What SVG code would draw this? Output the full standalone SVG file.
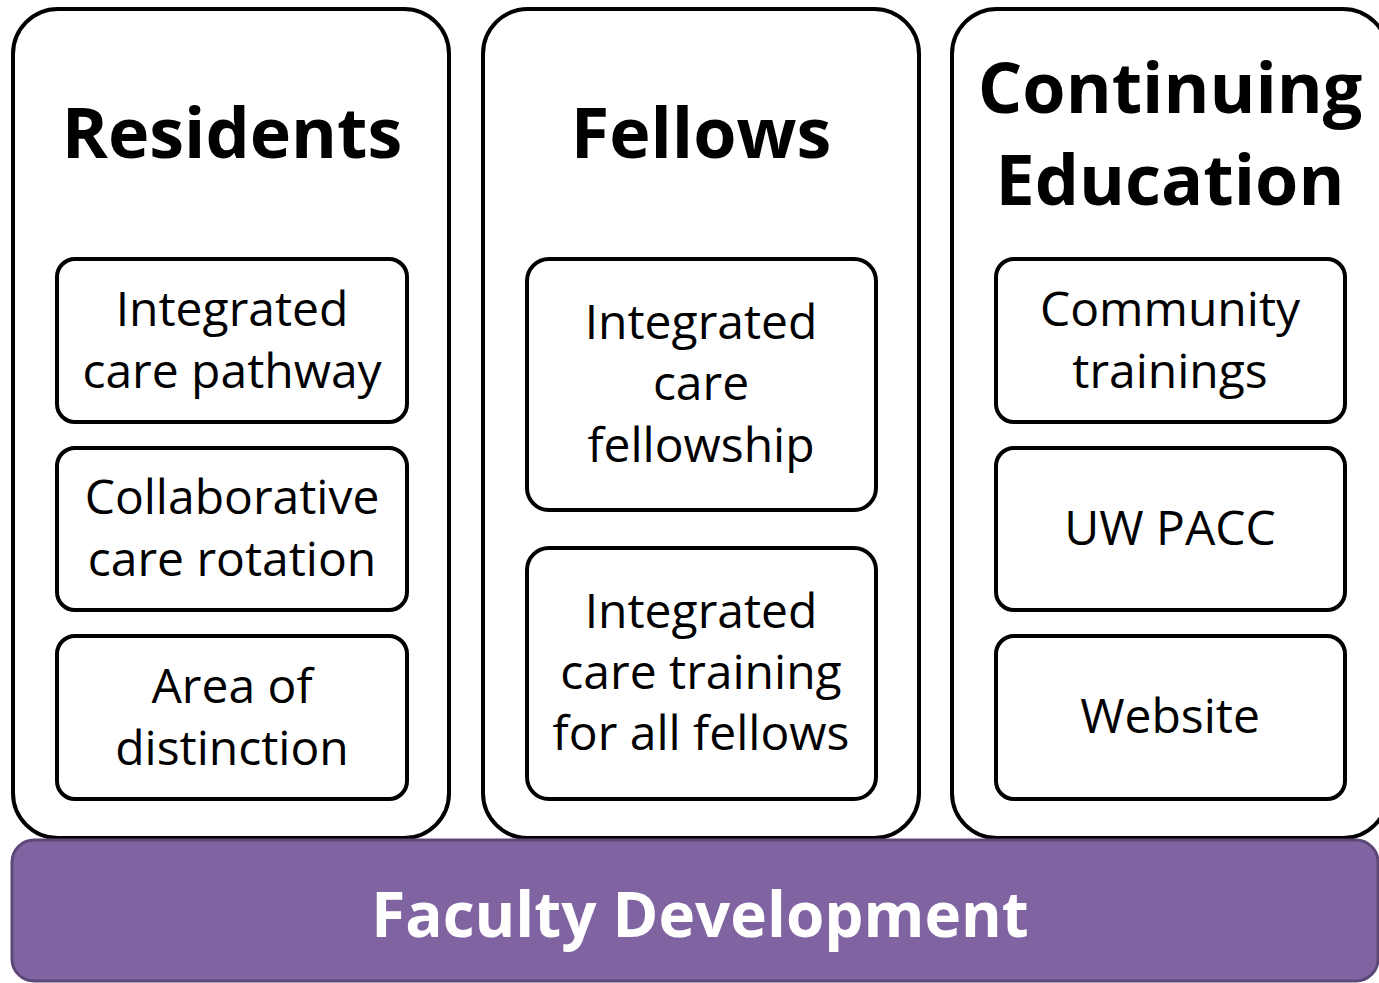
<svg xmlns="http://www.w3.org/2000/svg" width="1379" height="983" viewBox="0 0 1379 983">
<style>
.outer{fill:#fff;stroke:#000;stroke-width:4}
.inner{fill:#fff;stroke:#000;stroke-width:4}
.title{font-family:"Open Sans","Noto Sans",sans-serif;font-weight:bold;font-size:70px;fill:#000;text-anchor:middle}
.item{font-family:"Open Sans","Noto Sans",sans-serif;font-size:48px;fill:#000;text-anchor:middle}
.bar{fill:#8064A2;stroke:#5C4878;stroke-width:3}
.bartext{font-family:"Open Sans","Noto Sans",sans-serif;font-weight:bold;font-size:62px;fill:#fff;text-anchor:middle}
</style>
<rect width="1379" height="983" fill="#fff"/>
<g id="residents">
<rect class="outer" x="13" y="9" width="436" height="829" rx="45"/>
<text class="title" x="232" y="158">Residents</text>
</g>
<g id="res-1"><rect class="inner" x="57" y="259" width="350" height="163" rx="18"/>
<text class="item" x="232" y="326">Integrated</text><text class="item" x="232" y="388">care pathway</text></g>
<g id="res-2"><rect class="inner" x="57" y="448" width="350" height="162" rx="18"/>
<text class="item" x="232" y="514">Collaborative</text><text class="item" x="232" y="576">care rotation</text></g>
<g id="res-3"><rect class="inner" x="57" y="636" width="350" height="163" rx="18"/>
<text class="item" x="232" y="703">Area of</text><text class="item" x="232" y="765">distinction</text></g>

<g id="fellows">
<rect class="outer" x="483" y="9" width="436" height="829" rx="45"/>
<text class="title" x="701" y="158">Fellows</text>
</g>
<g id="fel-1"><rect class="inner" x="527" y="259" width="349" height="251" rx="22"/>
<text class="item" x="701" y="339">Integrated</text><text class="item" x="701" y="400">care</text><text class="item" x="701" y="462">fellowship</text></g>
<g id="fel-2"><rect class="inner" x="527" y="548" width="349" height="251" rx="22"/>
<text class="item" x="701" y="628">Integrated</text><text class="item" x="701" y="689">care training</text><text class="item" x="701" y="750">for all fellows</text></g>

<g id="continuing">
<rect class="outer" x="952" y="9" width="436" height="829" rx="45"/>
<text class="title" x="1170" y="113">Continuing</text>
<text class="title" x="1170" y="205">Education</text>
</g>
<g id="ce-1"><rect class="inner" x="996" y="259" width="349" height="163" rx="18"/>
<text class="item" x="1170" y="326">Community</text><text class="item" x="1170" y="388">trainings</text></g>
<g id="ce-2"><rect class="inner" x="996" y="448" width="349" height="162" rx="18"/>
<text class="item" x="1170" y="545">UW PACC</text></g>
<g id="ce-3"><rect class="inner" x="996" y="636" width="349" height="163" rx="18"/>
<text class="item" x="1170" y="733">Website</text></g>

<g id="faculty">
<rect class="bar" x="12" y="840" width="1366" height="141" rx="22"/>
<text class="bartext" x="700" y="937">Faculty Development</text>
</g>
<g id="connectors"></g>
</svg>
